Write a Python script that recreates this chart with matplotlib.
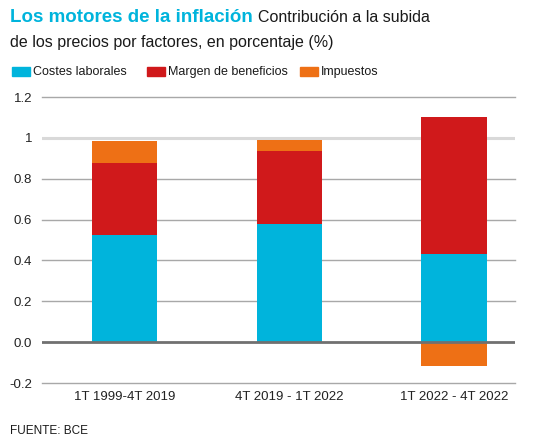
import matplotlib
matplotlib.use("Agg")
import matplotlib.pyplot as plt
from matplotlib.patches import Rectangle

plt.rcParams['font.family'] = ['Liberation Sans', 'DejaVu Sans']

periods = ['1T 1999-4T 2019', '4T 2019 - 1T 2022', '1T 2022 - 4T 2022']
costes = [0.525, 0.58, 0.43]
margen = [0.35, 0.355, 0.67]
impuestos = [0.11, 0.055, -0.115]
series_names = ['Costes laborales', 'Margen de beneficios', 'Impuestos']
colors = ['#00B4DC', '#D0191B', '#EE7015']
yticks = [-0.2, 0.0, 0.2, 0.4, 0.6, 0.8, 1.0, 1.2]
ytick_labels = ['-0.2', '0.0', '0.2', '0.4', '0.6', '0.8', '1', '1.2']

fig = plt.figure(figsize=(5.42, 4.40), dpi=100)
ax = fig.add_axes([42/542, 1-383/440, (515-42)/542, (383-97)/440])

x = list(range(len(periods)))
w = 0.395
ax.bar(x, costes, width=w, color=colors[0], zorder=3)
ax.bar(x, margen, width=w, bottom=costes, color=colors[1], zorder=3)
tops = [c + m for c, m in zip(costes, margen)]
imp_bottom = [t if v >= 0 else 0 for t, v in zip(tops, impuestos)]
ax.bar(x, impuestos, width=w, bottom=imp_bottom, color=colors[2], zorder=3)

ax.set_xlim(-0.5, 2.37)
ax.set_ylim(-0.2, 1.2)
ax.set_yticks(yticks)
ax.set_yticklabels(ytick_labels)
for t in yticks:
    if t == 0:
        ax.axhline(t, color='#707070', lw=2, zorder=4)
    elif t == 1.0:
        ax.axhline(t, color='#d9d9d9', lw=2.2, zorder=1)
    else:
        ax.axhline(t, color='#a8a8a8', lw=1, zorder=1, clip_on=False)

ax.set_xticks(x)
ax.set_xticklabels(periods)
ax.tick_params(axis='both', length=0, labelsize=9.5, colors='#222222')
ax.tick_params(axis='y', pad=7)
ax.tick_params(axis='x', pad=6)
for s in ax.spines.values():
    s.set_visible(False)

# title
t1 = fig.text(10/542, 1-18/440, 'Los motores de la inflación', color='#00B4DC',
              fontsize=13.5, fontweight='bold', va='center', ha='left')
fig.canvas.draw()
bb = t1.get_window_extent()
fig.text((bb.x1 + 5)/542, 1-18/440, 'Contribución a la subida', color='#1a1a1a',
         fontsize=11.5, va='center', ha='left')
fig.text(10/542, 1-42/440, 'de los precios por factores, en porcentaje (%)', color='#1a1a1a',
         fontsize=11.5, va='center', ha='left')

# legend
leg_x = [12, 147, 300]
for lx, name, c in zip(leg_x, series_names, colors):
    fig.patches.append(Rectangle((lx/542, 1-76.5/440), 18/542, 9/440,
                                 transform=fig.transFigure, color=c))
    fig.text((lx + 21)/542, 1-72/440, name, fontsize=9, color='#1a1a1a',
             va='center', ha='left')

fig.text(10/542, 1-431/440, 'FUENTE: BCE', fontsize=8.5, color='#1a1a1a',
         va='center', ha='left')

fig.savefig('out.png', dpi=100)
